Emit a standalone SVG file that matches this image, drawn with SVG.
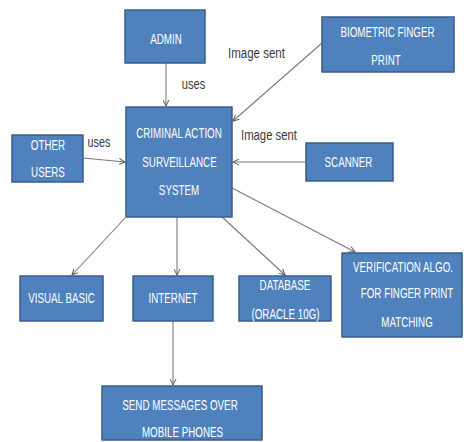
<svg xmlns="http://www.w3.org/2000/svg" width="464" height="442" viewBox="0 0 464 442">
<style>
.box{fill:#4F81BD;stroke:#385D8A;stroke-width:1.5}
.t{fill:#ffffff;font-family:"Liberation Sans",Arial,sans-serif;font-size:14px;text-anchor:middle}
.lbl{fill:#3a3a3a;font-family:"Liberation Sans",Arial,sans-serif;font-size:14px;text-anchor:middle}
.c{stroke:#7a7a7a;stroke-width:1.1;fill:none;marker-end:url(#ah)}
</style>
<defs>
<marker id="ah" markerWidth="7" markerHeight="7" refX="6" refY="3.5" orient="auto" markerUnits="userSpaceOnUse">
<path d="M0,0.5 L6,3.5 L0,6.5" fill="none" stroke="#5a5a5a" stroke-width="1"/>
</marker>
</defs>
<rect width="464" height="442" fill="#ffffff"/>
<g id="connectors">
<line class="c" x1="166" y1="63" x2="166" y2="106"/>
<line class="c" x1="322" y1="43" x2="233" y2="121"/>
<line class="c" x1="83" y1="158" x2="125" y2="162"/>
<line class="c" x1="306" y1="162" x2="233" y2="162"/>
<line class="c" x1="125" y1="218" x2="72" y2="275"/>
<line class="c" x1="177" y1="217" x2="177" y2="275"/>
<line class="c" x1="208" y1="204" x2="285" y2="275"/>
<line class="c" x1="232" y1="188" x2="355" y2="252"/>
<line class="c" x1="173" y1="321" x2="173" y2="385"/>
<text class="lbl" transform="translate(256.5,58) scale(0.82,1)">Image sent</text>
<text class="lbl" transform="translate(193.5,89) scale(0.8,1)">uses</text>
<text class="lbl" transform="translate(269,140) scale(0.81,1)">Image sent</text>
<text class="lbl" transform="translate(99,147) scale(0.77,1)">uses</text>
</g>
<g id="admin">
<rect class="box" x="125" y="10" width="80" height="53"/>
<text class="t" transform="translate(166,44) scale(0.7,1)">ADMIN</text>
</g>
<g id="biometric">
<rect class="box" x="322" y="17" width="132" height="55"/>
<text class="t" transform="translate(387.5,37) scale(0.7,1)">BIOMETRIC FINGER</text>
<text class="t" transform="translate(386,65) scale(0.7,1)">PRINT</text>
</g>
<g id="cas">
<rect class="box" x="126" y="107" width="106" height="110"/>
<text class="t" transform="translate(179,138) scale(0.7,1)">CRIMINAL ACTION</text>
<text class="t" transform="translate(179.5,167) scale(0.7,1)">SURVEILLANCE</text>
<text class="t" transform="translate(179,195) scale(0.7,1)">SYSTEM</text>
</g>
<g id="other-users">
<rect class="box" x="12" y="135" width="71" height="47"/>
<text class="t" transform="translate(48,150) scale(0.7,1)">OTHER</text>
<text class="t" transform="translate(48,177) scale(0.7,1)">USERS</text>
</g>
<g id="scanner">
<rect class="box" x="306" y="143" width="87" height="38"/>
<text class="t" transform="translate(348.5,167) scale(0.7,1)">SCANNER</text>
</g>
<g id="visual-basic">
<rect class="box" x="20" y="276" width="83" height="45"/>
<text class="t" transform="translate(61.5,303) scale(0.7,1)">VISUAL BASIC</text>
</g>
<g id="internet">
<rect class="box" x="133" y="276" width="80" height="45"/>
<text class="t" transform="translate(173,303) scale(0.7,1)">INTERNET</text>
</g>
<g id="database">
<rect class="box" x="239" y="276" width="92" height="45"/>
<text class="t" transform="translate(285,290) scale(0.7,1)">DATABASE</text>
<text class="t" transform="translate(285.5,319) scale(0.7,1)">(ORACLE 10G)</text>
</g>
<g id="verification">
<rect class="box" x="342" y="253" width="120" height="84"/>
<text class="t" transform="translate(403,272) scale(0.7,1)">VERIFICATION ALGO.</text>
<text class="t" transform="translate(407,298) scale(0.7,1)">FOR FINGER PRINT</text>
<text class="t" transform="translate(407,327) scale(0.7,1)">MATCHING</text>
</g>
<g id="send-messages">
<rect class="box" x="102" y="386" width="160" height="54"/>
<text class="t" transform="translate(180,410) scale(0.7,1)">SEND MESSAGES OVER</text>
<text class="t" transform="translate(182.5,437) scale(0.7,1)">MOBILE PHONES</text>
</g>
</svg>
